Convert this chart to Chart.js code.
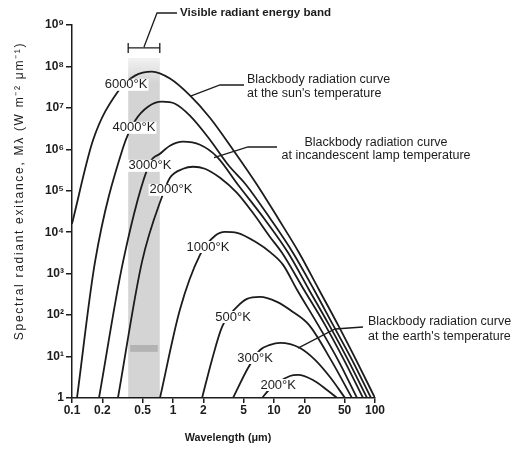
<!DOCTYPE html>
<html>
<head>
<meta charset="utf-8">
<script src="https://cdn.jsdelivr.net/npm/chart.js@4.4.1/dist/chart.umd.min.js"></script>
<style>
  body { margin: 0; background: #fff; }
  .wrap { width: 520px; height: 451px; position: relative; }
</style>
</head>
<body>
<div class="wrap"><canvas id="bbChart"></canvas></div>
<script>
// wavelength (um) / spectral exitance (W m-2 um-1)
const wl6000 = [0.1, 0.162, 0.285, 0.421, 0.619, 0.933, 1.47, 2.32, 3.93, 6.79, 11.2, 17.7, 27.9, 43.0, 64.9, 100];
const m6000 = [1.6e4, 1.7e6, 2.5e7, 6.0e7, 7.5e7, 5.1e7, 2.0e7, 5.8e6, 9.8e5, 1.4e5, 2.0e4, 3.2e3, 410, 58, 8.3, 1];

const wl4000 = [0.112, 0.169, 0.320, 0.421, 0.565, 0.778, 1.047, 1.47, 2.32, 3.51, 5.28, 9.34, 15.4, 24.9, 38.4, 59.2, 91.3];
const m4000 = [1, 1930, 1.09e6, 4.9e6, 1.07e7, 1.41e7, 1.26e7, 6.5e6, 1.71e6, 4.25e5, 1.4e5, 2.0e4, 3.2e3, 410, 58, 8.3, 1];

const wl3000 = [0.185, 0.320, 0.591, 0.743, 0.933, 1.26, 1.85, 2.73, 4.40, 8.15, 13.8, 22.2, 35.1, 54.0, 83.4];
const m3000 = [1, 1930, 4.75e5, 7.8e5, 1.22e6, 1.53e6, 1.29e6, 6.6e5, 1.4e5, 2.0e4, 3.2e3, 410, 58, 8.3, 1];

const wl2000 = [0.285, 0.493, 0.778, 0.933, 1.26, 1.58, 2.07, 2.92, 4.30, 6.20, 9.13, 12.0, 19.8, 32.0, 49.3, 76.1];
const m2000 = [1, 1930, 7.2e4, 2.06e5, 3.4e5, 3.8e5, 3.4e5, 2.06e5, 8.9e4, 2.9e4, 7.7e3, 3.2e3, 410, 58, 8.3, 1];

const wl1000 = [0.743, 1.17, 1.85, 2.61, 3.27, 4.30, 6.79, 9.34, 12.3, 16.9, 27.3, 43.0, 66.4];
const m1000 = [1, 134, 2840, 8190, 1.02e4, 9680, 5550, 3180, 1630, 410, 58, 8.3, 1];

const wl500 = [1.94, 2.43, 3.06, 4.30, 5.41, 7.27, 10.7, 15.4, 22.2, 36.6, 59.2];
const m500 = [1, 8.3, 52, 158, 246, 275, 208, 119, 58, 8.3, 1];

const wl300 = [3.93, 5.53, 7.27, 9.13, 11.5, 18.1, 25.5, 35.8, 50.5];
const m300 = [1, 5.3, 14.4, 19.1, 21.3, 16.1, 8.3, 3.2, 1];

const wl200 = [7.60, 8.9, 14.4, 17.3, 24.3, 33.5, 42.1];
const m200 = [1, 1.56, 3.4, 3.6, 2.72, 1.56, 1];

const tempNames = ['6000°K', '4000°K', '3000°K', '2000°K', '1000°K', '500°K', '300°K', '200°K'];
const xTicks = [0.1, 0.2, 0.5, 1, 2, 5, 10, 20, 50, 100];
const yTicks = [1, 1e1, 1e2, 1e3, 1e4, 1e5, 1e6, 1e7, 1e8, 1e9];
const visibleBand = [0.36, 0.74]; // um

const curves = [
  [wl6000, m6000], [wl4000, m4000], [wl3000, m3000], [wl2000, m2000],
  [wl1000, m1000], [wl500, m500], [wl300, m300], [wl200, m200]
];

// where each temperature label sits (in data units)
const labelSpots = [
  [0.343, 3.6e7], [0.411, 3.3e6], [0.591, 4.0e5], [0.955, 1.05e5],
  [2.22, 4.4e3], [3.93, 90], [6.49, 9.25], [11.0, 2.06]
];

const FONT = '"Liberation Sans", Arial, sans-serif';
const INK = '#1c1c1c';

const sup = {'0':'⁰','1':'¹','2':'²','3':'³','4':'⁴','5':'⁵','6':'⁶','7':'⁷','8':'⁸','9':'⁹'};
function powLabel(v) {
  const e = Math.round(Math.log10(v));
  if (e === 0) return '1';
  return '10' + String(e).split('').map(c => sup[c]).join('');
}

const decor = {
  id: 'decor',
  beforeDatasetsDraw(chart) {
    const {ctx, chartArea, scales: {x, y}} = chart;
    const x1 = x.getPixelForValue(visibleBand[0]);
    const x2 = x.getPixelForValue(visibleBand[1]);
    const top = y.getPixelForValue(1.6e8);
    ctx.save();
    const g = ctx.createLinearGradient(0, top, 0, top + 25);
    g.addColorStop(0, 'rgba(0,0,0,0.05)');
    g.addColorStop(1, 'rgba(0,0,0,0.17)');
    ctx.fillStyle = g;
    ctx.fillRect(x1, top, x2 - x1, chartArea.bottom - top);
    // darker smear low in the band
    const s1 = y.getPixelForValue(19), s2 = y.getPixelForValue(13);
    ctx.fillStyle = 'rgba(60,60,60,0.22)';
    ctx.fillRect(x1 + 2, s1, x2 - x1 - 4, s2 - s1);
    ctx.restore();
  },
  afterDatasetsDraw(chart) {
    const {ctx, scales: {x, y}} = chart;
    ctx.save();
    ctx.font = '13px ' + FONT;
    ctx.textAlign = 'center';
    ctx.textBaseline = 'middle';
    tempNames.forEach((t, i) => {
      const px = x.getPixelForValue(labelSpots[i][0]);
      const py = y.getPixelForValue(labelSpots[i][1]);
      const w = ctx.measureText(t).width;
      ctx.fillStyle = '#fff';
      ctx.fillRect(px - w / 2 - 1, py - 6, w + 2, 12);
      ctx.fillStyle = INK;
      ctx.fillText(t, px, py);
    });
    ctx.restore();
  },
  afterDraw(chart) {
    const {ctx, scales: {x, y}} = chart;
    ctx.save();
    ctx.strokeStyle = INK;
    ctx.fillStyle = INK;
    ctx.lineWidth = 1.3;

    // bracket over the visible band
    const b1 = x.getPixelForValue(visibleBand[0]);
    const b2 = x.getPixelForValue(visibleBand[1]);
    const by = y.getPixelForValue(2.8e8);
    ctx.beginPath();
    ctx.moveTo(b1, by - 5); ctx.lineTo(b1, by + 5);
    ctx.moveTo(b2, by - 5); ctx.lineTo(b2, by + 5);
    ctx.moveTo(b1, by); ctx.lineTo(b2, by);
    const bm = (b1 + b2) / 2;
    ctx.moveTo(bm, by - 1); ctx.lineTo(bm + 13, 13); ctx.lineTo(bm + 33, 13);
    ctx.stroke();

    // leader lines from the notes to the curves
    const leader = (tipX, tipY, elbow, end) => {
      ctx.beginPath();
      ctx.moveTo(x.getPixelForValue(tipX), y.getPixelForValue(tipY));
      ctx.lineTo(elbow[0], elbow[1]);
      ctx.lineTo(end[0], end[1]);
      ctx.stroke();
    };
    leader(1.47, 1.9e7, [220, 85], [244, 85]);
    leader(2.55, 6.3e5, [248, 147], [277, 147]);
    leader(17.3, 16, [335, 329], [363, 327]);

    ctx.textBaseline = 'middle';
    ctx.font = 'bold 11.6px ' + FONT;
    ctx.textAlign = 'left';
    ctx.fillText('Visible radiant energy band', bm + 36, 13);

    ctx.font = '12.5px ' + FONT;
    ctx.fillText('Blackbody radiation curve', 247, 80);
    ctx.fillText("at the sun's temperature", 247, 94);
    ctx.textAlign = 'center';
    ctx.fillText('Blackbody radiation curve', 376, 143);
    ctx.fillText('at incandescent lamp temperature', 376, 156);
    ctx.textAlign = 'left';
    ctx.fillText('Blackbody radiation curve', 368, 322);
    ctx.fillText("at the earth's temperature", 368, 337);

    // axis titles
    ctx.font = 'bold 10.8px ' + FONT;
    ctx.textAlign = 'center';
    ctx.fillText('Wavelength (μm)', 228, 438);
    ctx.translate(20, 191);
    ctx.rotate(-Math.PI / 2);
    ctx.font = '12px ' + FONT;
    ctx.letterSpacing = '1.7px';
    ctx.fillText('Spectral radiant exitance, Mλ (W m⁻² μm⁻¹)', 0, 0);
    ctx.restore();
  }
};

const axisLook = {
  display: true,
  drawOnChartArea: false,
  drawTicks: true,
  color: INK,
  lineWidth: 1.5
};

new Chart(document.getElementById('bbChart'), {
  type: 'line',
  data: {
    datasets: curves.map((c, i) => ({
      label: tempNames[i],
      data: c[0].map((v, j) => ({x: v, y: c[1][j]})),
      borderColor: INK,
      borderWidth: 1.8,
      pointRadius: 0,
      fill: false,
      cubicInterpolationMode: 'monotone'
    }))
  },
  options: {
    responsive: true,
    maintainAspectRatio: false,
    animation: false,
    layout: { padding: { left: 0, top: 25, right: 145, bottom: 0 } },
    plugins: {
      legend: { display: false },
      tooltip: { enabled: false }
    },
    scales: {
      x: {
        type: 'logarithmic',
        min: 0.1,
        max: 100,
        afterBuildTicks: (s) => { s.ticks = xTicks.map(v => ({value: v})); },
        afterFit: (s) => { s.height = 53; },
        grid: Object.assign({}, axisLook, { tickLength: 5 }),
        border: { display: true, color: INK, width: 1.5 },
        ticks: {
          color: INK,
          padding: 0,
          maxRotation: 0,
          autoSkip: false,
          font: { family: FONT, size: 12, weight: 'bold' },
          callback: (v) => String(v)
        }
      },
      y: {
        type: 'logarithmic',
        min: 1,
        max: 1e9,
        afterBuildTicks: (s) => { s.ticks = yTicks.map(v => ({value: v})); },
        afterFit: (s) => { s.width = 72; },
        grid: Object.assign({}, axisLook, { tickLength: 6 }),
        border: { display: true, color: INK, width: 1.5 },
        ticks: {
          color: INK,
          padding: 2,
          autoSkip: false,
          font: { family: FONT, size: 12, weight: 'bold' },
          callback: (v) => powLabel(v)
        }
      }
    }
  },
  plugins: [decor]
});
</script>
</body>
</html>
